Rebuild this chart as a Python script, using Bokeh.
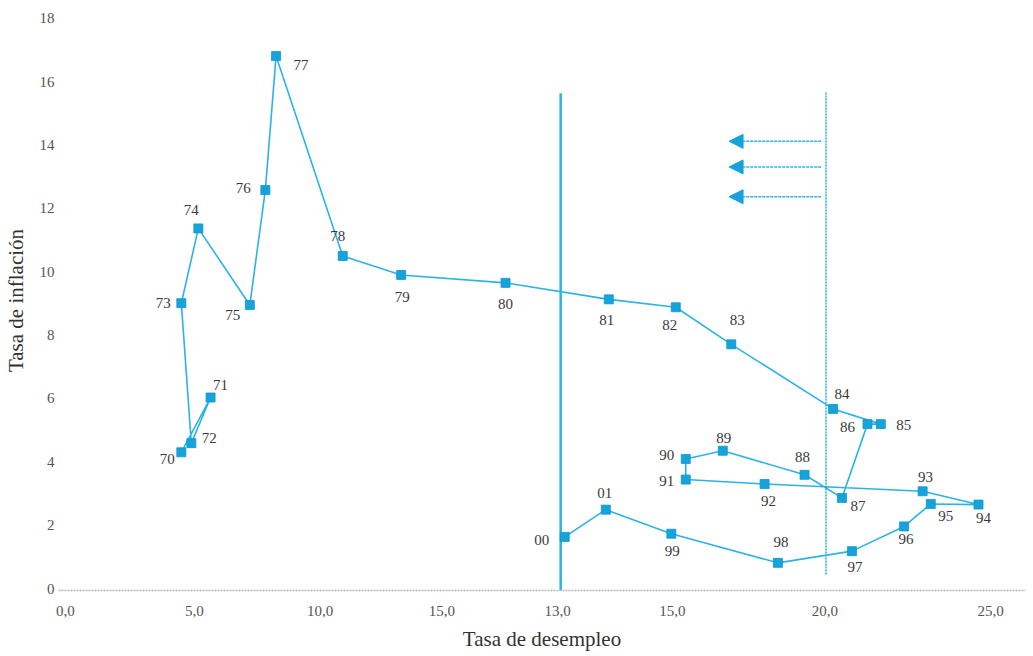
from bokeh.plotting import figure
from bokeh.models import Range1d, FixedTicker, ColumnDataSource, Arrow, NormalHead
from bokeh.core.properties import value
from bokeh.embed import file_html
from bokeh.resources import INLINE

# ---- data, in the order the path is drawn ----
years = ["70", "71", "72", "73", "74", "75", "76", "77", "78", "79",
         "80", "81", "82", "83", "84", "85", "86", "87", "88", "89",
         "90", "91", "92", "93", "94", "95", "96", "97", "98", "99",
         "01", "00"]
unemployment = [3.13, 3.92, 3.40, 3.13, 3.59, 4.98, 5.40, 5.69, 7.49, 9.07,
                11.89, 14.68, 16.49, 17.99, 20.74, 22.03, 21.67, 20.98, 19.97, 17.76,
                16.76, 16.76, 18.89, 23.16, 24.67, 23.38, 22.66, 21.25, 19.25, 16.37,
                14.60, 13.49]
inflation = [4.30, 6.03, 4.59, 9.01, 11.37, 8.95, 12.58, 16.81, 10.50, 9.90,
             9.65, 9.13, 8.88, 7.71, 5.67, 5.19, 5.19, 2.86, 3.59, 4.35,
             4.09, 3.44, 3.30, 3.07, 2.65, 2.67, 1.96, 1.18, 0.81, 1.73,
             2.49, 1.63]

x_tick_pos = [0.0, 3.48, 6.88, 10.17, 13.3, 16.4, 20.52, 25.0]
x_tick_labels = ["0,0", "5,0", "10,0", "15,0", "13,0", "15,0", "20,0", "25,0"]
y_ticks = [0, 2, 4, 6, 8, 10, 12, 14, 16, 18]

solid_line_x = 13.38
solid_line_top = 15.64
dashed_line_x = 20.55
dashed_line_top = 15.67
dashed_line_bottom = 0.44
arrow_tail_x = 20.42
arrow_tip_x = 17.93
arrow_levels = [14.12, 13.31, 12.37]

# ---- label placement (screen px offsets, layout only) ----
label_dx = [-14, 10, 18, -18, -7, -17, -22, 25, -5, 1,
            0, -2, -6, 6, 9, 23, -20, 16, -2, 1,
            -19, -19, 4, 3, 5, 15, 2, 3, 3, 1,
            -1, -23]
label_dy = [7, -13, -5, 0, -18, 10, -2, 9, -20, 22,
            21, 21, 18, -24, -15, 1, 3, 8, -18, -13,
            -4, 1, 17, -14, 13, 12, 13, 16, -21, 17,
            -17, 3]

BLUE_LINE = "#2bb3e6"
BLUE_MARK = "#16a3dc"
SERIF = "Liberation Serif"

src = ColumnDataSource(dict(x=unemployment, y=inflation, t=years,
                            dx=label_dx, dy=label_dy))

p = figure(width=1030, height=653, output_backend="svg", toolbar_location=None,
           x_range=Range1d(-0.189, 25.94), y_range=Range1d(-0.063, 18.25),
           min_border_left=56, min_border_right=5, min_border_top=10,
           min_border_bottom=62)
p.outline_line_color = None
p.xgrid.visible = False
p.ygrid.visible = False
p.background_fill_color = "white"

# reference lines
p.segment(x0=[solid_line_x], y0=[-0.063], x1=[solid_line_x], y1=[solid_line_top],
          line_color=BLUE_LINE, line_width=2.5)
p.segment(x0=[dashed_line_x], y0=[dashed_line_bottom], x1=[dashed_line_x], y1=[dashed_line_top],
          line_color=BLUE_LINE, line_width=1.6, line_dash="2 1")

for lvl in arrow_levels:
    p.add_layout(Arrow(end=NormalHead(size=14, fill_color=BLUE_MARK, line_color=BLUE_MARK),
                       x_start=arrow_tail_x, y_start=lvl, x_end=arrow_tip_x, y_end=lvl,
                       line_color=BLUE_LINE, line_width=1.6, line_dash="3 1"))

# trajectory
p.line("x", "y", source=src, line_color=BLUE_LINE, line_width=1.6)
p.scatter("x", "y", source=src, marker="square", size=9,
          fill_color=BLUE_MARK, line_color="#0f95cc", line_width=0.8)
p.text("x", "y", text="t", source=src, x_offset="dx", y_offset="dy",
       text_align="center", text_baseline="middle",
       text_font=value(SERIF), text_font_size="15px", text_color="#3a3a3a")

# axes
p.xaxis.ticker = FixedTicker(ticks=x_tick_pos)
p.xaxis.major_label_overrides = {pos: lab for pos, lab in zip(x_tick_pos, x_tick_labels)}
p.xaxis.axis_label = "Tasa de desempleo"
p.xaxis.axis_line_color = "#b5b5b5"
p.xaxis.axis_line_dash = "2 1"
p.xaxis.axis_line_width = 1.5
p.xaxis.major_label_standoff = 15
p.xaxis.axis_label_standoff = 8

p.yaxis.ticker = FixedTicker(ticks=y_ticks)
p.yaxis.axis_label = "Tasa de inflación"
p.yaxis.axis_line_color = None
p.yaxis.major_label_standoff = 4
p.yaxis.axis_label_standoff = 9

for ax in (p.xaxis, p.yaxis):
    ax.major_tick_line_color = None
    ax.minor_tick_line_color = None
    ax.major_tick_out = 0
    ax.major_tick_in = 0
    ax.minor_tick_out = 0
    ax.minor_tick_in = 0
    ax.major_label_text_font = SERIF
    ax.major_label_text_font_size = "15px"
    ax.major_label_text_color = "#555555"
    ax.axis_label_text_font = SERIF
    ax.axis_label_text_font_size = "21px"
    ax.axis_label_text_font_style = "normal"
    ax.axis_label_text_color = "#333333"

open("out.html", "w").write(file_html(p, INLINE))
